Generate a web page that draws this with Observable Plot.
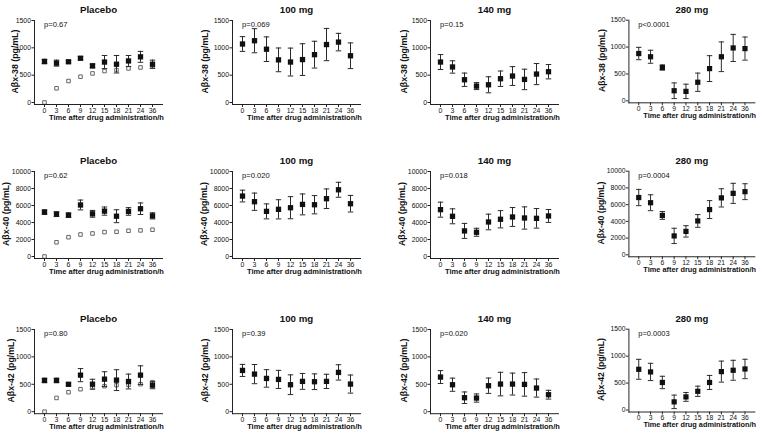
<!DOCTYPE html>
<html><head><meta charset="utf-8">
<script src="https://cdn.jsdelivr.net/npm/d3@7"></script>
<script src="https://cdn.jsdelivr.net/npm/@observablehq/plot@0.6"></script>
<style>
body{margin:0;background:#fff;}
#wrap{position:relative;width:762px;height:437px;overflow:hidden;font-family:"Liberation Sans",Arial,sans-serif;background:#fff;}
.panel{position:absolute;}
.panel svg{overflow:visible;}
</style></head><body><div id="wrap"></div>
<script>
// ---------- data ----------
const times = ["0","3","6","9","12","15","18","21","24","36"];
const groups = ["Placebo","100 mg","140 mg","280 mg"];
const analytes = ["Aβx-38 (pg/mL)","Aβx-40 (pg/mL)","Aβx-42 (pg/mL)"];
const xTitle = "Time after drug administration/h";
const yMax = [1500, 10000, 1500];
const yTicks = [[0,500,1000,1500],[0,2000,4000,6000,8000,10000],[0,500,1000,1500]];
const pValues = [
  ["p=0.67","p=0.069","p=0.15","p<0.0001"],
  ["p=0.62","p=0.020","p=0.018","p=0.0004"],
  ["p=0.80","p=0.39","p=0.020","p=0.0003"]
];

// Aβx-38
const ab38Placebo      = [750,720,745,810,670,740,700,760,835,700];
const ab38PlaceboErr   = [40,55,25,30,35,120,160,100,100,75];
const ab38PlaceboOpen  = [0,260,393,472,532,575,593,623,641,660];
const ab38Dose100      = [1070,1130,975,780,740,785,875,1060,1105,855];
const ab38Dose100Err   = [135,220,225,217,255,290,245,295,160,235];
const ab38Dose140      = [740,650,416,300,324,435,484,422,520,563];
const ab38Dose140Err   = [137,113,122,64,147,141,172,187,193,131];
const ab38Dose280      = [880,820,620,188,176,346,600,820,984,972];
const ab38Dose280Err   = [115,121,48,146,134,170,240,276,252,215];

// Aβx-40
const ab40Placebo      = [5220,4980,4860,6060,5020,5340,4740,5300,5620,4780];
const ab40PlaceboErr   = [260,280,260,580,400,480,760,450,680,360];
const ab40PlaceboOpen  = [0,1670,2270,2590,2710,2870,2910,3030,3070,3150];
const ab40Dose100      = [7110,6445,5310,5550,5740,6130,6090,6800,7850,6210];
const ab40Dose100Err   = [690,1015,880,1130,1300,1230,1075,1150,880,975];
const ab40Dose140      = [5510,4730,3010,2850,4060,4380,4650,4530,4490,4770];
const ab40Dose140Err   = [880,880,880,470,920,1015,1110,1310,1150,760];
const ab40Dose280      = [6850,6230,4710,2260,2800,4050,5410,6810,7350,7550];
const ab40Dose280Err   = [975,950,470,915,680,760,1070,1090,1200,950];

// Aβx-42
const ab42Placebo      = [570,570,500,667,502,594,576,551,667,484];
const ab42PlaceboErr   = [40,40,25,120,90,135,190,135,170,65];
const ab42PlaceboOpen  = [0,251,355,410,441,465,484,490,502,539];
const ab42Dose100      = [753,686,607,589,492,553,547,553,717,504];
const ab42Dose100Err   = [110,175,160,165,180,145,143,130,140,165];
const ab42Dose140      = [632,492,255,249,474,504,504,498,431,310];
const ab42Dose140Err   = [118,120,105,75,140,215,200,215,165,80];
const ab42Dose280      = [756,707,512,152,244,348,512,713,738,762];
const ab42Dose280Err   = [185,160,115,125,82,95,130,195,185,180];

const means = [
  [ab38Placebo, ab38Dose100, ab38Dose140, ab38Dose280],
  [ab40Placebo, ab40Dose100, ab40Dose140, ab40Dose280],
  [ab42Placebo, ab42Dose100, ab42Dose140, ab42Dose280]
];
const errs = [
  [ab38PlaceboErr, ab38Dose100Err, ab38Dose140Err, ab38Dose280Err],
  [ab40PlaceboErr, ab40Dose100Err, ab40Dose140Err, ab40Dose280Err],
  [ab42PlaceboErr, ab42Dose100Err, ab42Dose140Err, ab42Dose280Err]
];
const opens = [ab38PlaceboOpen, ab40PlaceboOpen, ab42PlaceboOpen];

// ---------- layout ----------
const frameLeft = [33.5, 231.7, 430, 628.8];
const frameTop = [20, 171, 329.3];
const frameBottom = [104, 258, 413.5];
const yLabelOffset = [[19,27,26,27],[28,28,28,28],[23,27,26,28]];
const frameW = 128;
const mL = 36, mR = 8, mT = 18, mB = 24;
const FONT = '"Liberation Sans", Arial, sans-serif';

const cap = {draw(ctx, size){ const w = Math.sqrt(size) / 2; ctx.moveTo(-w, 0); ctx.lineTo(w, 0); }};

const wrap = document.getElementById("wrap");
for (let r = 0; r < 3; r++) {
  for (let c = 0; c < 4; c++) {
    const rows = times.map((t, i) => ({t, m: means[r][c][i], lo: means[r][c][i] - errs[r][c][i], hi: means[r][c][i] + errs[r][c][i]}));
    const fh = frameBottom[r] - frameTop[r];
    const marks = [];
    if (c === 0) {
      const openRows = times.map((t, i) => ({t, v: opens[r][i]}));
      marks.push(Plot.dot(openRows, {x: "t", y: "v", symbol: "square", r: 2, stroke: "#555", strokeWidth: 0.9, fill: "white"}));
    }
    marks.push(
      Plot.ruleX(rows, {x: "t", y1: "lo", y2: "hi", stroke: "#2a2a2a", strokeWidth: 1}),
      Plot.dot(rows, {x: "t", y: "lo", symbol: cap, r: 3.1, stroke: "#2a2a2a", strokeWidth: 1, fill: "none"}),
      Plot.dot(rows, {x: "t", y: "hi", symbol: cap, r: 3.1, stroke: "#2a2a2a", strokeWidth: 1, fill: "none"}),
      Plot.dot(rows, {x: "t", y: "m", symbol: "square", r: 3, fill: "#111", stroke: null}),
      Plot.frame({anchor: "left", stroke: "#222", strokeWidth: 1}),
      Plot.frame({anchor: "bottom", stroke: "#222", strokeWidth: 1}),
      Plot.axisY({ticks: yTicks[r], tickFormat: d => String(d), tickSize: 2.5, tickPadding: 1, fontSize: 6.9, label: null, stroke: "#222"}),
      Plot.axisX({tickSize: 3, tickPadding: 0.5, fontSize: 6.9, label: null, stroke: "#222"}),
      Plot.text([groups[c]], {frameAnchor: "top", textAnchor: "middle", lineAnchor: "middle", dy: -10.3, text: d => d, fontSize: 9.7, fontWeight: "bold", fill: "#111"}),
      Plot.text([{t: times[0], v: yMax[r], label: pValues[r][c]}], {x: "t", y: "v", text: "label", textAnchor: "start", lineAnchor: "middle", dx: -0.5, dy: 4, fontSize: 7.6, fill: "#111"}),
      Plot.text([xTitle], {frameAnchor: "bottom", textAnchor: "middle", lineAnchor: "middle", dy: 13.3, dx: 8, text: d => d, fontSize: 7.5, fontWeight: "bold", fill: "#111"}),
      Plot.text([analytes[r]], {frameAnchor: "left", textAnchor: "middle", lineAnchor: "middle", rotate: -90, dx: -yLabelOffset[r][c], dy: -1, text: d => d, fontSize: 8.8, fontWeight: "bold", fill: "#111"})
    );
    const chart = Plot.plot({
      width: mL + frameW + mR,
      height: mT + fh + mB,
      marginLeft: mL, marginRight: mR, marginTop: mT, marginBottom: mB,
      style: {fontFamily: FONT, background: "transparent", color: "#111"},
      x: {type: "point", domain: times, padding: 0.7},
      y: {domain: [0, yMax[r]], insetBottom: 2},
      marks
    });
    const div = document.createElement("div");
    div.className = "panel";
    div.style.left = (frameLeft[c] - mL) + "px";
    div.style.top = (frameTop[r] - mT) + "px";
    div.appendChild(chart);
    wrap.appendChild(div);
  }
}
</script>
</body></html>
